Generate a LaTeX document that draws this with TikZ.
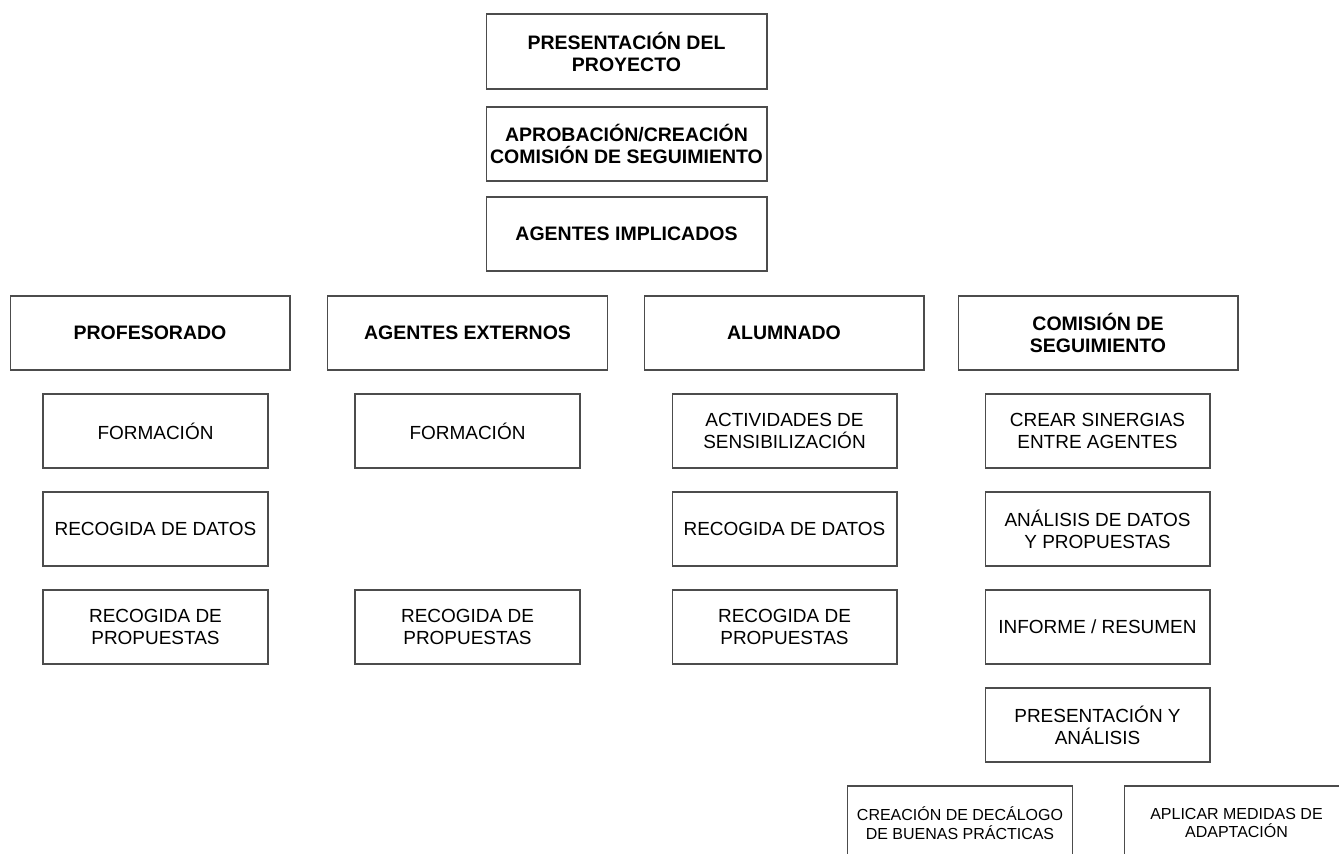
\documentclass[tikz,border=0pt]{standalone}
\usepackage{fontspec}
\setmainfont{Liberation Sans}
\begin{document}
\begin{tikzpicture}[x=0.02cm,y=-0.02cm,
  caja/.style={draw=black!70, line width=0.6pt, minimum width=4.5cm, minimum height=1.48cm,
    inner sep=0pt, align=center, font=\fontsize{10.8}{12.5}\selectfont},
  cabecera/.style={caja, minimum width=5.6cm, font=\bfseries\fontsize{11.1}{12.5}\selectfont},
  final/.style={caja, font=\fontsize{9.1}{10.7}\selectfont}]
\useasboundingbox (0,0) rectangle (1339,854);
\clip (0,0) rectangle (1339,854);
% tronco
\node[cabecera, minimum width=5.62cm, minimum height=1.5cm] (presentacion) at (626.5,51.5) {PRESENTACIÓN DEL\\PROYECTO};
\node[cabecera, minimum width=5.62cm] (aprobacion) at (626.5,144) {APROBACIÓN/CREACIÓN\\COMISIÓN DE SEGUIMIENTO};
\node[cabecera, minimum width=5.62cm] (agentes) at (626.5,234) {AGENTES IMPLICADOS};
% agentes
\node[cabecera] (profesorado) at (150,333) {PROFESORADO};
\node[cabecera] (externos) at (467.5,333) {AGENTES EXTERNOS};
\node[cabecera] (alumnado) at (784,333) {ALUMNADO};
\node[cabecera] (comision) at (1098,333) {COMISIÓN DE\\SEGUIMIENTO};
% tareas
\node[caja] (profFormacion) at (155.5,431) {FORMACIÓN};
\node[caja] (profDatos) at (155.5,529) {RECOGIDA DE DATOS};
\node[caja] (profPropuestas) at (155.5,627) {RECOGIDA DE\\PROPUESTAS};
\node[caja] (extFormacion) at (467.5,431) {FORMACIÓN};
\node[caja] (extPropuestas) at (467.5,627) {RECOGIDA DE\\PROPUESTAS};
\node[caja] (alumSensibilizacion) at (784.5,431) {ACTIVIDADES DE\\SENSIBILIZACIÓN};
\node[caja] (alumDatos) at (784.5,529) {RECOGIDA DE DATOS};
\node[caja] (alumPropuestas) at (784.5,627) {RECOGIDA DE\\PROPUESTAS};
\node[caja] (comSinergias) at (1097.5,431) {CREAR SINERGIAS\\ENTRE AGENTES};
\node[caja] (comAnalisis) at (1097.5,529) {ANÁLISIS DE DATOS\\Y PROPUESTAS};
\node[caja] (comInforme) at (1097.5,627) {INFORME / RESUMEN};
\node[caja] (comPresentacion) at (1097.5,725) {PRESENTACIÓN Y\\ANÁLISIS};
% cierre
\node[final] (decalogo) at (960,823) {CREACIÓN DE DECÁLOGO\\DE BUENAS PRÁCTICAS};
\node[final] (medidas) at (1236.5,823) {APLICAR MEDIDAS DE\\ADAPTACIÓN};
\end{tikzpicture}
\end{document}
